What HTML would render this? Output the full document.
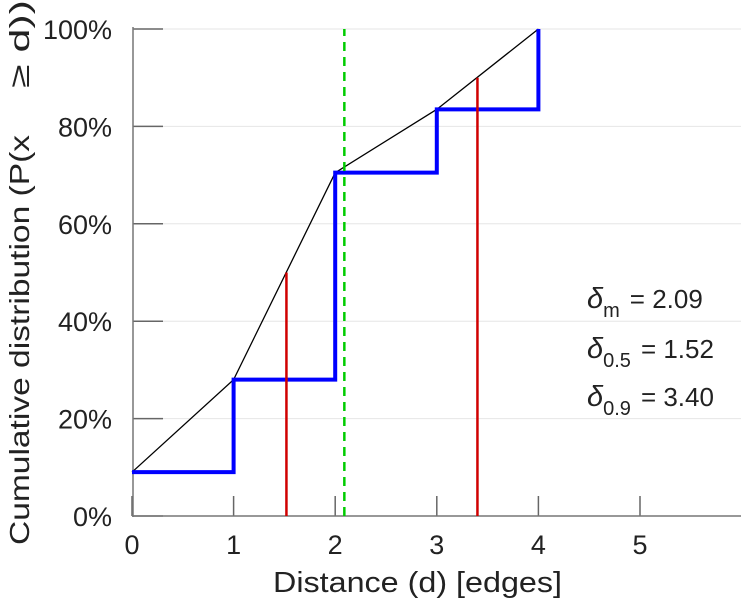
<!DOCTYPE html>
<html><head><meta charset="utf-8"><style>
body{margin:0;background:#fff;}
svg text{font-family:"Liberation Sans","DejaVu Sans",sans-serif;fill:#222;}
</style></head><body>
<svg width="749" height="600" xmlns="http://www.w3.org/2000/svg">
<g id="grid"></g>
<g id="axes"></g>
<g id="marks"></g>
<text x="273" y="592" font-size="29" textLength="289" lengthAdjust="spacingAndGlyphs">Distance (d) [edges]</text>
<g font-size="28">
<text transform="translate(29,545) rotate(-90)" textLength="410" lengthAdjust="spacingAndGlyphs">Cumulative distribution (P(x</text>
<text transform="translate(29,88) rotate(-90)" textLength="88" lengthAdjust="spacingAndGlyphs">≥ d))</text>
</g>
<g font-size="26">
<text x="587" y="308"><tspan font-style="italic" font-size="29">δ</tspan><tspan font-size="20" dy="9">m</tspan><tspan dy="-9" dx="10">= 2.09</tspan></text>
<text x="587" y="358"><tspan font-style="italic" font-size="29">δ</tspan><tspan font-size="20" dy="9">0.5</tspan><tspan dy="-9" dx="10">= 1.52</tspan></text>
<text x="587" y="406"><tspan font-style="italic" font-size="29">δ</tspan><tspan font-size="20" dy="9">0.9</tspan><tspan dy="-9" dx="10">= 3.40</tspan></text>
</g>
</svg>
<script>
const xs=[0,1,2,3,4];
const cdf=[0.09,0.28,0.705,0.835,1.0];
const xTicks=[0,1,2,3,4,5];
const yTicks=[0,0.2,0.4,0.6,0.8,1.0];
const yTickLabels=["0%","20%","40%","60%","80%","100%"];
const quantX=[1.52,3.40];
const quantY=[0.5,0.9];
const meanX=[2.09];
const X=v=>132+v*101.6;
const Y=v=>516-v*487;
const NS="http://www.w3.org/2000/svg";
function mk(parent,tag,attrs){const e=document.createElementNS(NS,tag);for(const k in attrs)e.setAttribute(k,attrs[k]);document.getElementById(parent).appendChild(e);return e;}
yTicks.forEach((t,i)=>{
 const g=mk('grid','line',{x1:133,x2:741,y1:Y(t),y2:Y(t),stroke:'#e6e6e6','stroke-width':1});
 
 
 const tk=mk('axes','line',{x1:133,x2:163,y1:Y(t),y2:Y(t),stroke:'#666','stroke-width':1.5});
 
 
 const tx=mk('axes','text',{x:112,y:Y(t)+10,'font-size':27,'text-anchor':'end'});
 tx.textContent=yTickLabels[i];
 
 
});
xTicks.forEach(t=>{
 const tk=mk('axes','line',{x1:X(t),x2:X(t),y1:516,y2:496,stroke:'#666','stroke-width':1.5});
 
 
 const tx=mk('axes','text',{x:X(t),y:554,'font-size':27,'text-anchor':'middle'});
 tx.textContent=String(t);
 
 
});
const ya=mk('axes','line',{x1:133,x2:133,y1:Y(1)-2,y2:517,stroke:'#777','stroke-width':1.5});


const xa=mk('axes','line',{x1:132,x2:741,y1:516,y2:516,stroke:'#777','stroke-width':1.5});


const bl=mk('marks','polyline',{points:xs.map((x,i)=>X(x)+','+Y(cdf[i])).join(' '),fill:'none',stroke:'#000','stroke-width':1.3});


let pts=[];
for(let i=0;i<xs.length;i++){
 pts.push(X(xs[i])+','+Y(i>0?cdf[i-1]:cdf[0]));
 pts.push(X(xs[i])+','+Y(cdf[i]));
}
pts.shift();
const st=mk('marks','polyline',{points:pts.join(' '),fill:'none',stroke:'#0000ff','stroke-width':4});


quantX.forEach((q,i)=>{
 const l=mk('marks','line',{x1:X(q),x2:X(q),y1:516,y2:Y(quantY[i]),stroke:'#d00000','stroke-width':2.5});
 
 
});
meanX.forEach(m=>{
 const l=mk('marks','line',{x1:X(m),x2:X(m),y1:516,y2:Y(1),stroke:'#00cc00','stroke-width':2.5,'stroke-dasharray':'9,6'});
 
 
});
</script>
</body></html>
